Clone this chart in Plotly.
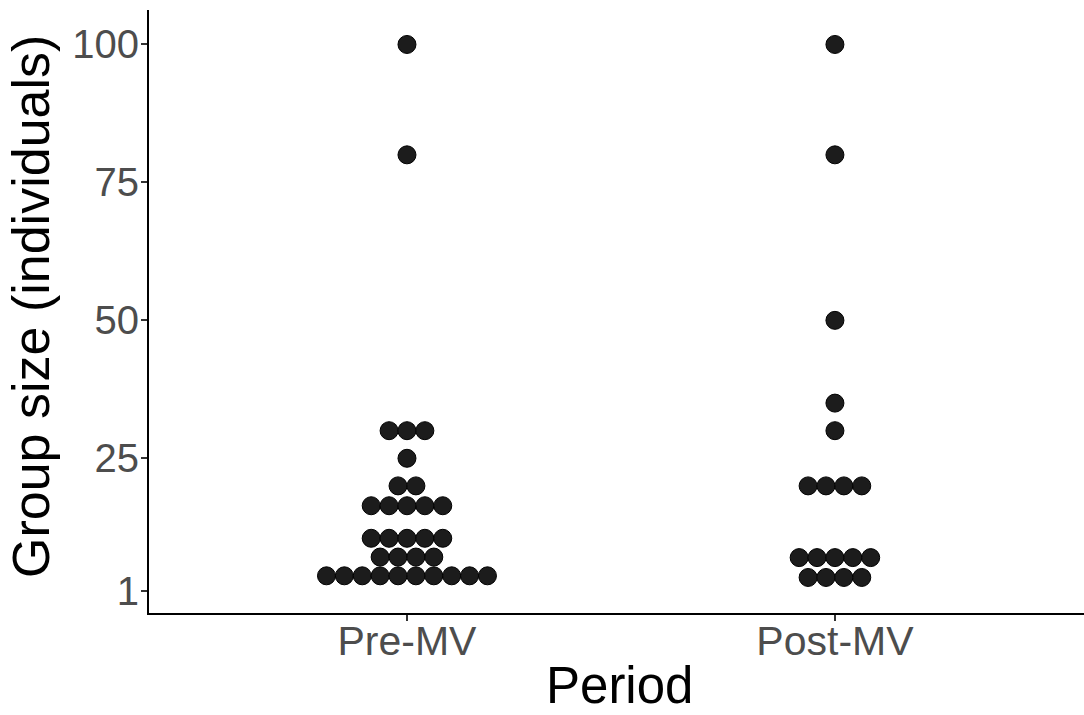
import plotly.graph_objects as go
from collections import Counter

# ---- data (group sizes, as read from the dotplot bins) ----
periods = ["Pre-MV", "Post-MV"]
pre_mv_sizes = [100, 80] + [30] * 3 + [25] + [20] * 2 + [16.4] * 5 + [10.5] * 5 + [7.1] * 4 + [3.7] * 10
post_mv_sizes = [100, 80, 50, 35, 30] + [20] * 4 + [7.0] * 5 + [3.4] * 4
y_ticks = [1, 25, 50, 75, 100]

groups = {"Pre-MV": pre_mv_sizes, "Post-MV": post_mv_sizes}

DOT_STEP = 0.0418  # horizontal stacking width in category units

fig = go.Figure()
for gi, name in enumerate(periods):
    counts = Counter(groups[name])
    xs, ys = [], []
    for val, n in counts.items():
        for i in range(n):
            xs.append(gi + (i - (n - 1) / 2) * DOT_STEP)
            ys.append(val)
    fig.add_trace(go.Scatter(
        x=xs, y=ys, mode="markers",
        marker=dict(size=18, color="#1c1c1c", line=dict(color="black", width=1)),
        showlegend=False, hoverinfo="y",
    ))

font_family = "Liberation Sans, Arial, sans-serif"
fig.update_layout(
    width=1084, height=715,
    margin=dict(l=149, r=0, t=10, b=102),
    paper_bgcolor="white", plot_bgcolor="white",
    font=dict(family=font_family),
    xaxis=dict(
        range=[-0.6028, 1.582], automargin=False,
        tickmode="array", tickvals=[0, 1], ticktext=periods,
        showline=True, linecolor="black", linewidth=2,
        ticks="outside", ticklen=6, tickwidth=1.5, tickcolor="#333333",
        tickfont=dict(size=41, color="#4d4d4d", family=font_family),
        ticklabelstandoff=-15,
        showgrid=False, zeroline=False,
    ),
    yaxis=dict(
        range=[-3.04, 106.25], automargin=False,
        tickmode="array", tickvals=y_ticks, ticktext=[str(t) for t in y_ticks],
        showline=True, linecolor="black", linewidth=2,
        ticks="outside", ticklen=6, tickwidth=1.5, tickcolor="#333333",
        tickfont=dict(size=40, color="#4d4d4d", family=font_family),
        ticklabelstandoff=-6,
        showgrid=False, zeroline=False,
    ),
    annotations=[
        dict(
            text="Period", xref="paper", yref="paper", x=0.5027, y=-0.121,
            xanchor="center", yanchor="middle", showarrow=False,
            font=dict(size=51, color="black", family=font_family),
        ),
        dict(
            text="Group size (individuals)", xref="paper", yref="paper", x=-0.1262, y=0.5075,
            xanchor="center", yanchor="middle", showarrow=False, textangle=-90,
            font=dict(size=52, color="black", family=font_family),
        ),
    ],
)

fig.write_html("out.html", config={"displayModeBar": False},
               post_script="document.body.style.margin='0';")
